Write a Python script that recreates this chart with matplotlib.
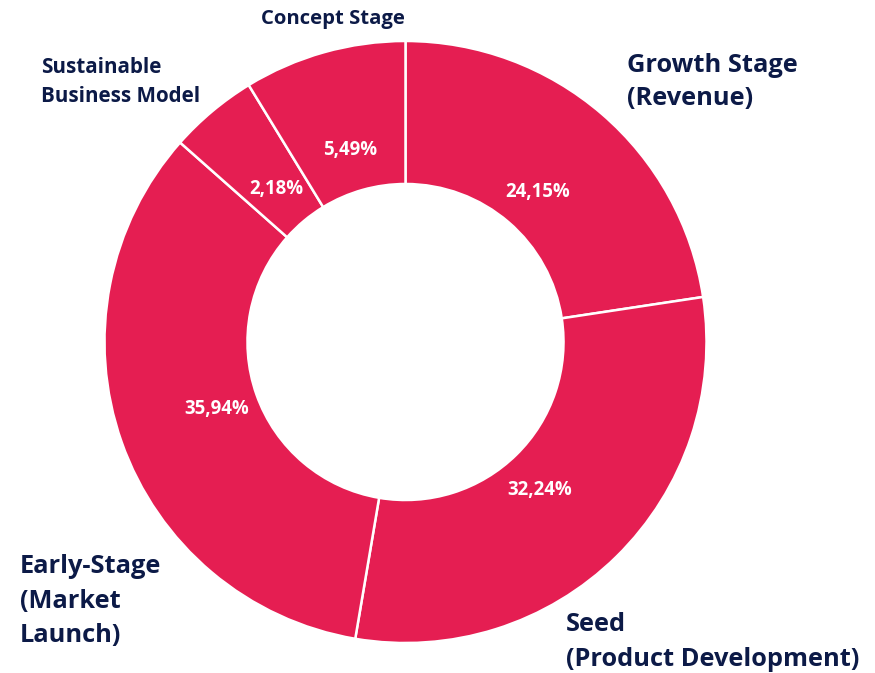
import matplotlib.pyplot as plt
import numpy as np

# data (wedge sizes as drawn; printed labels as given in the chart)
stages = [["Growth Stage", "(Revenue)"],
          ["Seed", "(Product Development)"],
          ["Early-Stage", "(Market", "Launch)"],
          ["Sustainable", "Business Model"],
          ["Concept Stage"]]
shares = [22.61, 30.06, 33.86, 4.75, 8.72]
pct_labels = ["24,15%", "32,24%", "35,94%", "2,18%", "5,49%"]

RED = "#E51E52"
NAVY = "#0C1A47"
FONT = "Open Sans"
W, H = 875, 673
cx, cy, R = 405.5, 342, 301

fig = plt.figure(figsize=(W / 100, H / 100), dpi=100)
ax = fig.add_axes([(cx - R) / W, (H - cy - R) / H, 2 * R / W, 2 * R / H])
ax.pie(shares, colors=[RED] * len(shares), startangle=90, counterclock=False,
       radius=1, wedgeprops=dict(width=0.475, edgecolor="white", linewidth=1.8))
ax.set_xlim(-1, 1)
ax.set_ylim(-1, 1)
ax.set_aspect("auto")
ax.axis("off")

# percent labels (angles as placed in the original)
lab_angles = [48.7, -47.8, 199.5, 130, 106]
for txt, a in zip(pct_labels, lab_angles):
    t = np.deg2rad(a)
    ax.text(0.665 * np.cos(t), 0.665 * np.sin(t), txt, ha="center", va="center",
            color="white", fontsize=13.4, fontweight="bold", family=FONT)

def ftext(x, y, lines, size, step, ha="left"):
    # y = baseline of the first line in pixels from the top
    for i, s in enumerate(lines):
        fig.text(x / W, 1 - (y + i * step) / H, s, ha=ha, va="baseline",
                 color=NAVY, fontsize=size, fontweight="bold", family=FONT)

ftext(627, 72, stages[0], 18.3, 33)
ftext(566, 631, stages[1], 18.3, 35)
ftext(20, 573, stages[2], 18.3, 34.5)
ftext(41, 73, stages[3], 14.9, 29)
ftext(333, 24, stages[4], 14.6, 0, ha="center")

fig.savefig("out.png", dpi=100)
